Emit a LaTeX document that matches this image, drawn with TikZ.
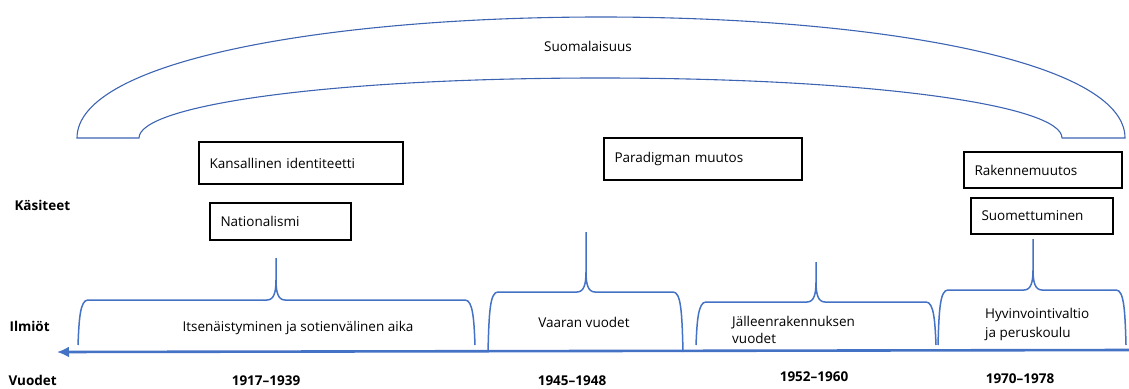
\documentclass[tikz,border=0pt]{standalone}
\usepackage{fontspec}
\setmainfont{Open Sans}
\usetikzlibrary{arrows.meta}
\definecolor{accent}{RGB}{68,114,196}
\definecolor{archblue}{RGB}{60,100,178}
\tikzset{
  >={Latex[length=12pt,width=11pt]},
}
\tikzstyle{every node}=[font=\fontsize{13.5}{17}\selectfont]
\tikzstyle{conceptbox}=[draw,line width=1.2pt,align=left,inner xsep=10.5pt,inner ysep=0pt]
\tikzstyle{rowlabel}=[anchor=west,font=\fontsize{13.5}{17}\selectfont\bfseries]
\tikzstyle{year}=[font=\fontsize{13.5}{17}\selectfont\bfseries]
\tikzstyle{period}=[accent,line width=1.5pt]
\tikzstyle{arch}=[archblue,line width=1.1pt]
\tikzstyle{axis}=[accent,line width=2.6pt,<-]

\begin{document}
\begin{tikzpicture}[x=1pt,y=-1pt]
    \useasboundingbox (0,0) rectangle (1129,388);

    \draw[arch] (77,138) .. controls (77,60) and (330,17) .. (601,17)
      .. controls (872,17) and (1125,60) .. (1125,138) -- (1062,138)
      .. controls (1062,105) and (870,78) .. (600,78)
      .. controls (330,78) and (139,105) .. (139,138) -- cycle;
    \node (suomalaisuus) at (588,46) {Suomalaisuus};

    \node[conceptbox,text width=183pt,minimum height=42pt] (kansallinen) at (301,163) {Kansallinen identiteetti};
    \node[conceptbox,text width=120pt,minimum height=37pt] (nationalismi) at (280.5,221.5) {Nationalismi};
    \node[conceptbox,text width=177pt,minimum height=42pt] (paradigma) at (703,159) {Paradigman muutos};
    \node[conceptbox,text width=137pt,minimum height=36pt] (rakenne) at (1043,170) {Rakennemuutos};
    \node[conceptbox,text width=121pt,minimum height=36pt] (suomettuminen) at (1042,216) {Suomettuminen};

    \foreach \xa/\xc/\xb/\yt/\yp/\yb in {78/276/475/300/258/345, 488/586/683/292/232/352,
      696/816/936/302/262/345, 938/1033/1126/290/239/345}
      \draw[period] (\xa,\yb) .. controls (\xa+1,\yt+20) and (\xa+2,\yt) .. (\xa+10,\yt)
        -- (\xc-9,\yt) .. controls (\xc-2,\yt) and (\xc,\yt-8) .. (\xc,\yt-20) -- (\xc,\yp)
        -- (\xc,\yt-20) .. controls (\xc,\yt-8) and (\xc+2,\yt) .. (\xc+9,\yt)
        -- (\xb-10,\yt) .. controls (\xb-2,\yt) and (\xb-1,\yt+20) .. (\xb,\yb);

    \node (itsenaistyminen) at (298,328) {Itsenäistyminen ja sotienvälinen aika};
    \node (vaaran) at (584,322) {Vaaran vuodet};
    \node[anchor=west,align=left,inner sep=0pt] (jalleenrakennus) at (732,329.5) {Jälleenrakennuksen\\vuodet};
    \node[anchor=west,align=left,inner sep=0pt,font=\fontsize{13.5}{19}\selectfont] (hyvinvointi) at (985,324.5) {Hyvinvointivaltio\\ja peruskoulu};

    \coordinate (axisL) at (57,352);
    \coordinate (axisR) at (1129,350);
    \draw[axis] (axisL) -- (axisR);

    \node[rowlabel] (kasitteet) at (11,205) {Käsiteet};
    \node[rowlabel] (ilmiot) at (6,326) {Ilmiöt};
    \node[rowlabel] (vuodet) at (5,380) {Vuodet};

    \node[year] (y1917) at (266,381) {1917–1939};
    \node[year] (y1945) at (572,381) {1945–1948};
    \node[year] (y1952) at (814,377) {1952–1960};
    \node[year] (y1970) at (1020,379) {1970–1978};
\end{tikzpicture}
\end{document}
